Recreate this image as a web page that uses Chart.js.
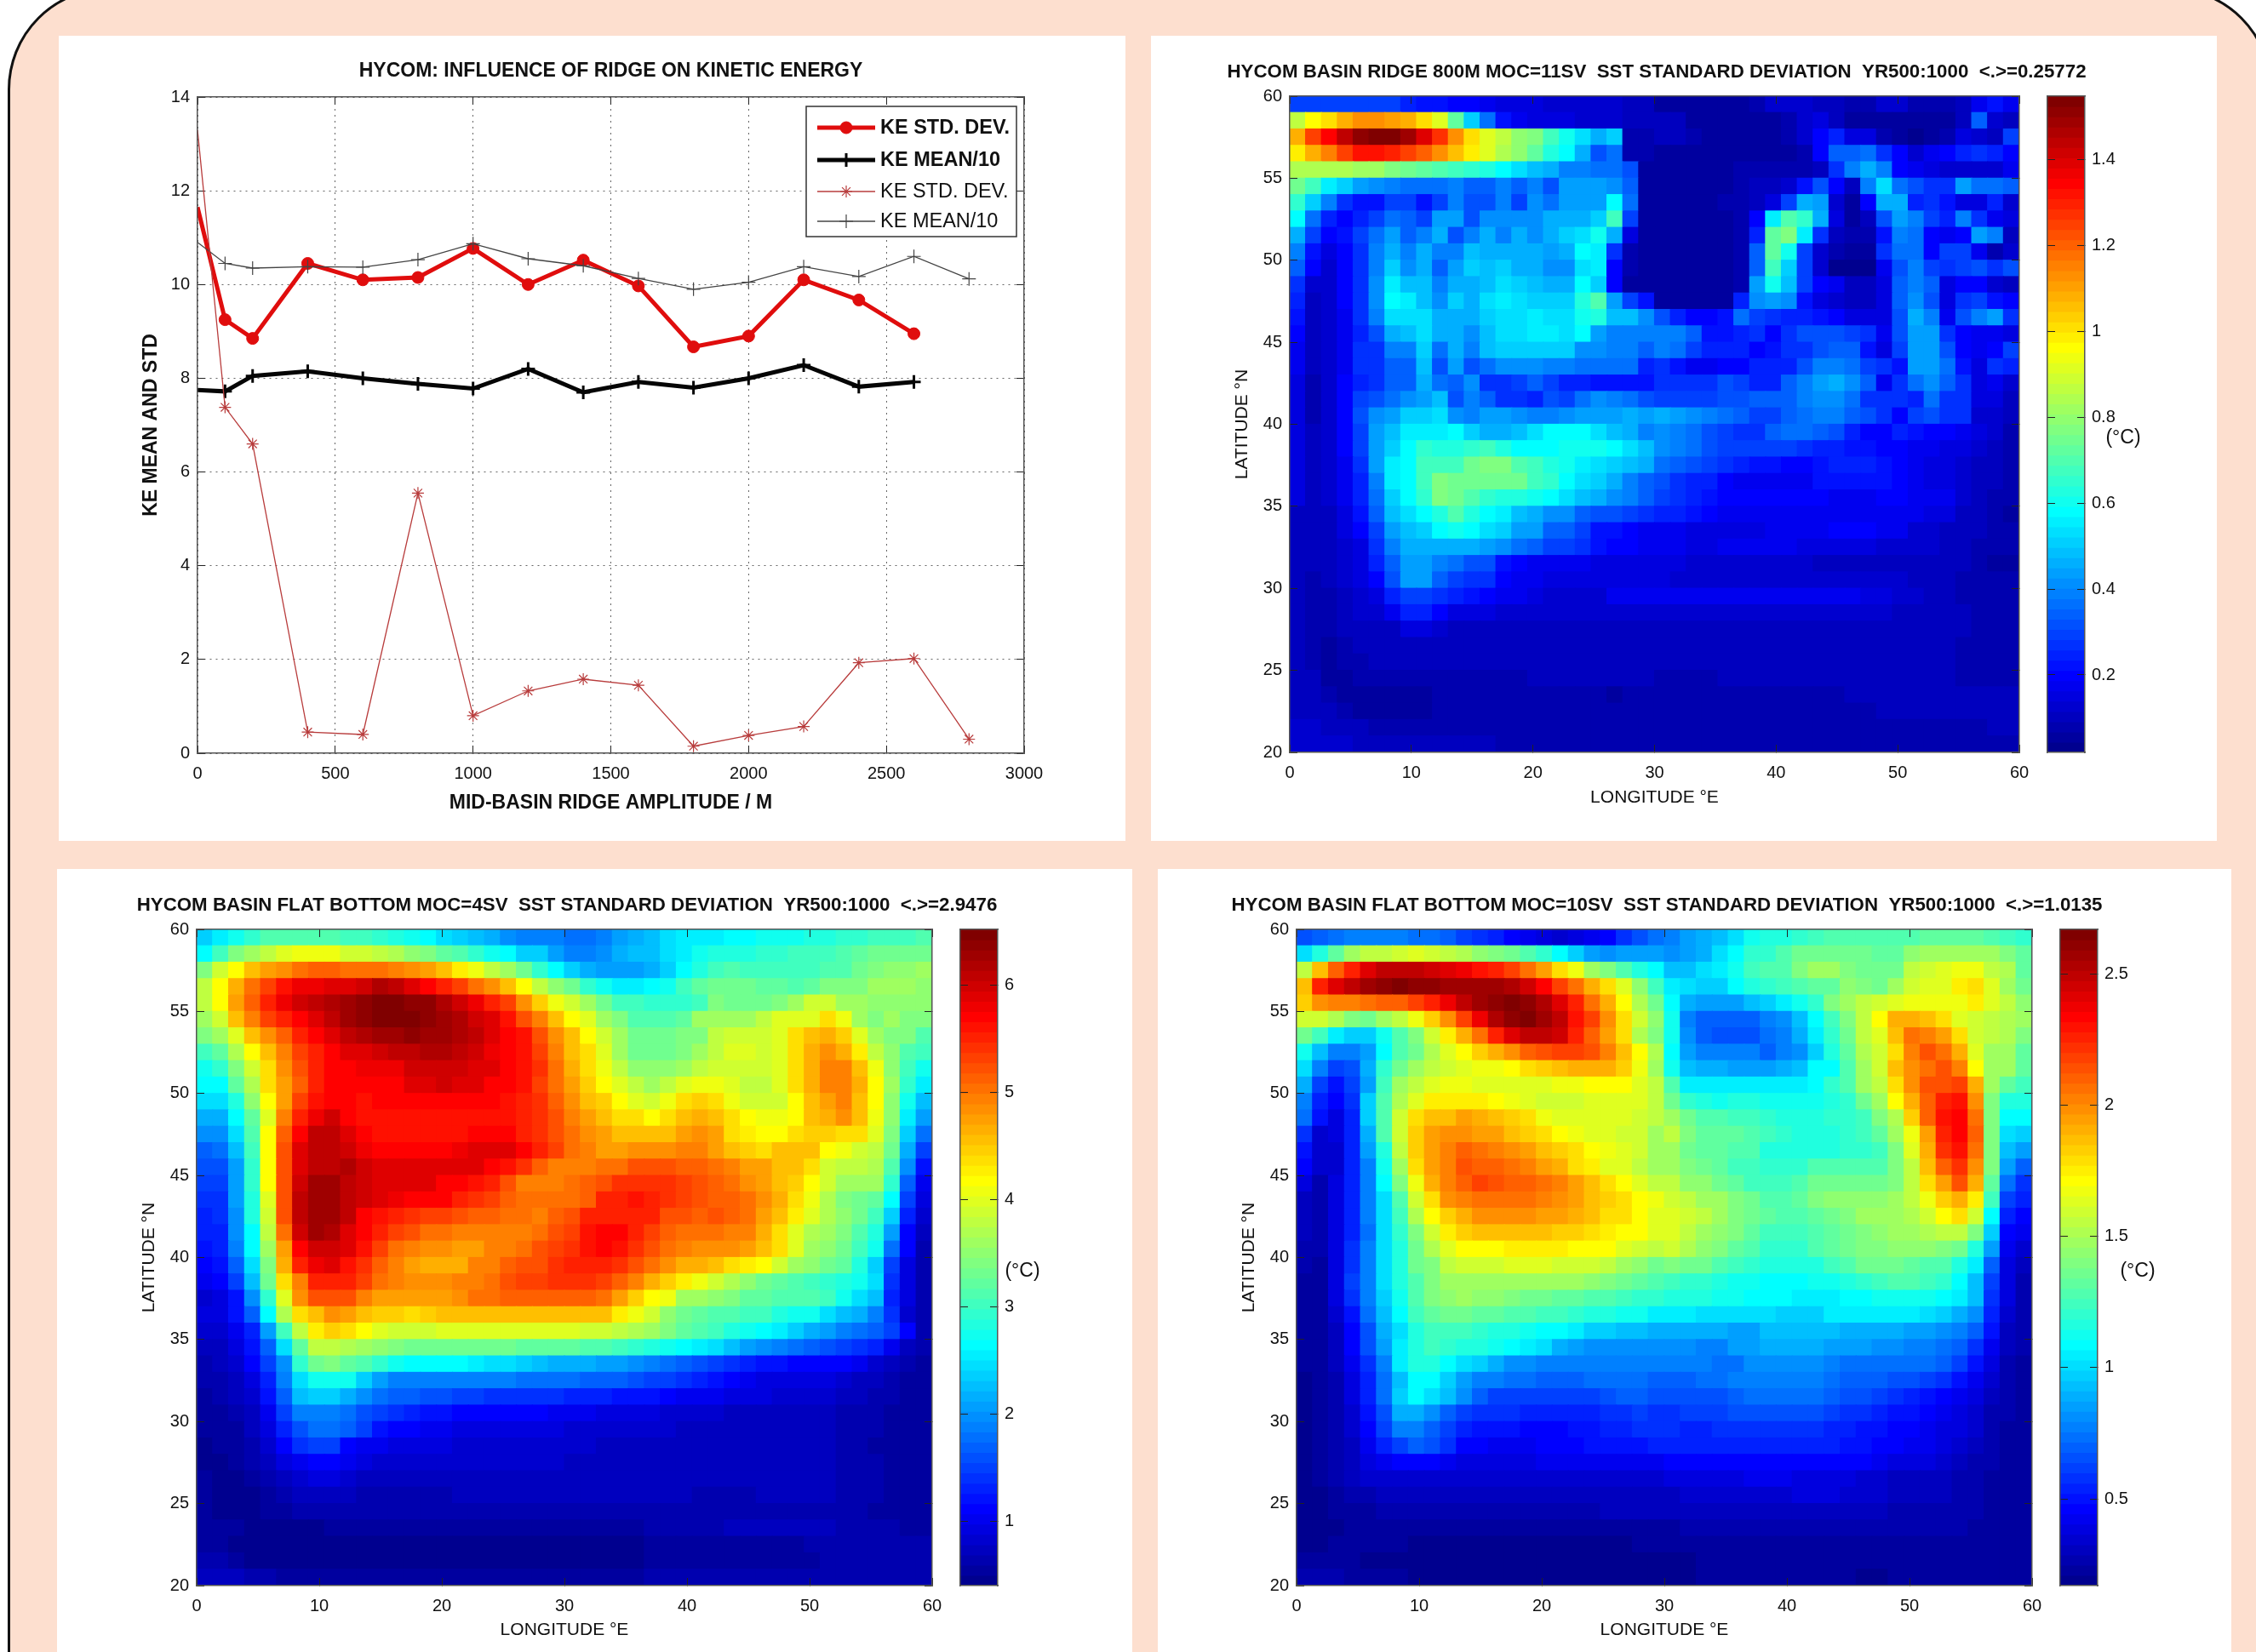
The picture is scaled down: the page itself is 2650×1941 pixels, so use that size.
<!DOCTYPE html>
<html><head><meta charset="utf-8">
<script src="https://cdn.jsdelivr.net/npm/chart.js@4"></script>
<style>
html,body{margin:0;padding:0;background:#fff;width:2650px;height:1941px;overflow:hidden;font-family:"Liberation Sans",Arial,sans-serif}
#frame{position:absolute;left:9px;top:-15px;width:2660px;height:2100px;background:#fddfcf;border:3px solid #111;border-radius:120px;box-sizing:border-box}
canvas{position:absolute;display:block}
.sheet{position:absolute;background:#fff}
.unit{position:absolute;font-size:23px;color:#111;transform:translate(-50%,-50%);white-space:pre}
</style></head><body><div id="frame"></div>
<script>
// ---------- line chart values ----------
const ridgeAmplitudeThick=[0,100,200,400,600,800,1000,1200,1400,1600,1800,2000,2200,2400,2600];
const keStdThick=[11.65,9.25,8.85,10.45,10.1,10.15,10.77,10.0,10.52,9.97,8.67,8.9,10.1,9.67,8.95];
const keMeanThick=[7.75,7.72,8.05,8.15,8.0,7.88,7.78,8.2,7.7,7.92,7.8,8.0,8.28,7.82,7.92];
const ridgeAmplitudeThin=[0,100,200,400,600,800,1000,1200,1400,1600,1800,2000,2200,2400,2600,2800];
const keStdThin=[13.3,7.38,6.6,0.45,0.4,5.55,0.8,1.33,1.58,1.45,0.15,0.38,0.57,1.93,2.02,0.3];
const keMeanThin=[10.9,10.45,10.35,10.38,10.37,10.53,10.87,10.55,10.4,10.13,9.9,10.05,10.38,10.17,10.6,10.12];
const xTicks1=[0,3000,500], yTicks1=[0,14,2];

// ---------- heat map values: colour-bar level (0-63) of each cell, rows from 60N down to 20N ----------
const ridgeLevels=[
[11,11,11,11,11,11,11,9,8,8,7,7,6,5,5,5,4,4,4,4,4,3,3,1,1,1,1,1,1,2,4,4,4,3,3,2,2,4,4,2,2,2,3,6,8,6],
[35,39,41,44,46,46,45,44,41,37,29,20,14,8,6,5,5,5,4,4,4,3,3,3,3,1,1,1,1,1,1,2,4,5,3,1,1,1,1,1,1,1,3,13,4,3],
[44,51,55,59,62,63,63,61,57,52,46,41,37,35,32,31,27,24,21,18,20,2,2,3,3,2,1,1,1,1,1,2,4,7,9,5,5,2,1,0,1,2,5,4,3,11],
[40,44,47,51,54,54,53,51,49,46,43,40,37,34,32,29,25,23,18,12,14,2,2,1,1,1,1,1,1,1,1,1,2,7,13,13,14,10,7,4,6,7,9,10,9,7],
[34,34,34,34,33,33,31,30,29,28,27,26,25,23,21,19,18,15,15,14,14,12,1,1,1,1,1,1,2,2,2,2,2,3,10,15,18,15,7,6,5,4,4,4,4,6],
[30,27,22,20,17,16,15,14,14,14,15,13,13,15,13,15,12,17,17,17,16,13,1,1,1,1,1,1,2,3,3,4,8,12,7,3,15,21,14,12,10,10,17,14,14,13],
[26,20,15,10,8,8,11,11,8,11,15,12,12,15,11,16,14,17,17,17,23,14,1,1,1,1,1,2,2,3,5,11,18,17,4,1,7,18,18,9,10,8,5,5,9,4],
[23,14,9,7,9,11,14,13,11,17,17,12,16,16,16,16,18,18,18,20,27,11,1,1,1,1,1,1,2,7,22,28,26,18,5,1,3,12,17,15,11,9,15,10,6,5],
[18,11,7,8,11,14,17,13,15,18,12,15,18,15,18,16,18,20,21,24,18,5,1,1,1,1,1,1,2,9,29,31,22,10,3,2,2,8,15,14,7,6,7,17,15,3],
[15,8,5,7,10,15,18,15,18,15,15,19,18,18,18,18,17,18,23,22,10,2,1,1,1,1,1,1,2,13,29,24,11,4,2,1,1,10,14,14,7,11,11,6,2,4],
[13,7,4,7,10,15,20,16,18,13,17,20,19,20,18,18,16,16,21,22,7,2,1,1,1,1,1,1,2,13,27,20,11,4,0,0,0,6,12,15,11,10,11,12,10,12],
[10,4,4,7,10,16,22,19,19,15,18,18,19,21,20,19,18,18,23,20,7,1,1,1,1,1,1,1,2,17,24,19,11,7,6,3,3,5,13,15,13,5,7,7,4,3],
[9,3,4,7,10,16,23,22,19,16,20,18,21,22,21,20,20,20,25,28,17,11,8,1,1,1,1,1,9,16,17,16,8,5,4,3,3,5,13,16,12,5,10,11,8,7],
[8,3,4,6,10,15,21,21,21,18,18,18,20,21,21,22,21,21,24,25,19,19,16,12,9,7,7,8,14,11,10,9,9,8,7,5,5,5,12,18,15,6,12,15,17,10],
[7,3,4,6,9,12,18,19,21,18,18,16,19,21,21,22,22,21,23,17,15,15,15,15,15,13,8,8,9,10,7,10,12,12,12,11,10,6,12,17,17,10,7,6,6,5],
[6,3,4,6,10,10,15,15,20,14,18,15,19,20,20,20,20,20,16,16,15,15,13,15,14,11,9,9,9,7,8,10,10,12,13,13,8,5,11,17,17,12,7,6,7,11],
[6,3,4,6,10,10,13,13,19,12,17,12,14,16,16,16,15,15,14,14,14,14,9,10,8,6,6,7,7,9,9,9,12,15,15,14,11,10,8,17,17,14,8,5,10,9],
[5,2,4,7,9,10,13,13,18,14,13,16,10,10,11,13,11,9,9,8,8,8,8,10,10,10,10,12,11,9,9,13,15,17,18,16,13,6,10,14,16,13,10,5,6,4],
[5,2,4,7,11,12,14,16,17,19,12,15,13,10,10,9,12,11,14,16,15,14,12,11,11,11,11,12,12,13,13,13,15,16,16,14,10,10,10,9,14,10,10,5,5,3],
[5,2,4,7,12,16,17,20,20,21,16,15,17,17,16,15,15,16,17,17,17,18,17,18,17,16,15,14,13,11,11,13,14,15,15,13,12,10,7,11,12,10,10,4,4,3],
[5,3,4,7,11,17,19,22,22,22,23,20,18,18,19,21,23,23,23,21,19,18,15,16,15,14,12,11,10,10,13,14,14,13,12,9,7,7,9,8,7,7,6,5,4,2],
[5,3,4,7,11,17,20,23,26,25,25,26,27,25,23,23,23,24,24,24,23,21,19,16,15,14,12,11,11,11,11,11,10,9,9,8,8,7,7,6,6,5,5,4,3,2],
[5,3,4,6,10,17,22,23,27,27,27,30,31,31,28,27,25,24,22,21,20,19,18,14,13,12,11,10,9,8,8,7,7,8,9,9,9,8,7,6,5,5,4,3,3,2],
[5,3,4,6,9,15,22,23,27,31,30,30,30,30,30,27,26,23,21,20,18,15,13,12,10,9,9,7,6,6,6,6,6,8,8,8,8,8,7,6,5,5,4,3,3,2],
[5,3,4,6,9,14,20,23,26,31,30,28,26,25,25,24,23,21,19,18,16,15,13,11,10,9,8,7,7,7,7,7,7,7,6,6,6,7,7,6,6,6,4,3,2,2],
[3,3,3,5,8,13,19,21,23,25,28,25,23,22,19,18,16,16,13,12,12,11,10,9,9,8,7,6,6,6,6,6,6,6,6,6,6,6,6,6,5,5,3,3,2,1],
[3,3,3,5,7,11,17,19,20,23,24,23,21,20,17,17,13,13,11,8,8,7,6,6,6,5,5,5,5,5,6,6,6,6,7,7,7,6,6,4,4,3,3,3,2,2],
[3,3,3,4,5,10,15,18,18,18,18,18,17,16,14,13,11,11,10,8,7,7,6,6,6,5,5,6,6,6,6,6,5,5,5,5,5,4,4,4,4,3,3,2,2,2],
[3,3,3,4,5,9,13,17,17,15,14,12,12,8,7,6,6,6,6,5,5,5,5,5,5,4,4,4,4,4,4,4,4,3,3,3,3,3,3,3,3,3,3,2,1,1],
[3,2,3,4,5,7,12,17,17,13,11,10,10,7,6,6,5,5,5,5,5,5,5,5,4,4,4,4,4,4,4,4,4,4,4,4,4,4,4,3,3,3,2,2,2,2],
[3,2,2,3,4,5,9,11,11,10,9,8,7,6,6,5,4,4,4,4,6,6,6,6,6,6,6,6,6,6,6,6,6,6,6,6,5,5,4,4,3,3,2,2,2,2],
[3,2,2,3,4,4,6,9,9,7,5,5,5,4,4,4,4,4,4,4,4,4,4,4,4,4,4,4,4,4,4,4,4,4,4,4,4,4,3,3,3,3,3,2,2,2],
[3,2,2,3,3,3,3,5,5,4,3,3,3,3,3,3,3,3,3,3,3,3,3,3,3,3,3,3,3,3,3,3,3,3,3,3,3,3,3,3,3,3,3,2,2,2],
[3,2,1,2,3,3,3,3,3,3,3,3,3,3,3,3,3,3,3,3,3,3,3,3,3,3,3,3,3,3,3,3,3,3,3,3,3,3,3,3,3,3,2,2,2,2],
[3,2,1,2,2,3,3,3,3,3,3,3,3,3,3,3,3,3,3,3,3,3,3,3,3,3,3,3,3,3,3,3,3,3,3,3,3,3,3,3,3,3,2,2,2,2],
[3,3,1,1,2,2,2,2,2,2,2,2,2,2,2,3,3,3,3,3,3,3,3,2,2,2,2,3,3,3,3,3,3,3,3,3,3,3,3,3,3,3,2,2,2,2],
[3,3,2,1,1,1,1,1,1,2,2,2,2,2,2,2,2,2,2,2,1,2,2,2,2,2,2,2,2,2,2,2,2,2,2,3,3,3,3,3,3,3,3,3,3,3],
[3,3,3,2,1,1,1,1,1,2,2,2,2,2,2,2,2,2,2,2,2,2,2,2,2,2,2,2,2,2,2,2,2,2,2,2,2,3,3,3,3,3,3,3,3,3],
[4,4,3,3,3,2,2,2,2,2,2,2,2,2,2,2,2,2,2,2,2,2,2,2,2,2,2,2,2,2,2,2,2,2,2,2,2,2,2,2,2,2,2,2,3,3],
[4,4,4,4,3,3,3,3,3,3,3,3,3,2,2,2,2,2,2,2,2,2,2,2,2,2,2,2,2,2,2,2,2,2,2,2,2,2,2,2,2,2,2,2,2,2]];

const flat4Levels=[
[20,22,24,26,28,28,28,28,28,27,27,26,25,24,23,21,20,19,18,16,15,15,15,14,14,15,17,18,19,21,22,22,22,23,23,24,24,24,25,25,26,26,27,27,27,28],
[23,27,31,33,35,37,38,38,38,36,36,35,34,32,31,29,28,26,24,23,20,20,17,15,15,16,18,19,19,21,22,24,25,25,25,26,26,27,27,27,28,29,30,30,30,30],
[31,36,39,43,45,46,48,49,49,48,48,48,47,46,45,43,40,38,35,33,30,26,23,20,18,17,17,17,18,20,23,25,27,28,27,27,27,27,27,28,28,30,31,32,32,33],
[35,39,44,48,51,54,56,56,57,57,58,60,59,57,55,53,51,48,46,43,39,35,32,30,26,24,22,22,23,24,27,29,30,30,30,29,29,28,29,31,31,31,33,33,33,32],
[35,39,45,49,53,56,58,59,60,61,62,63,63,62,62,60,58,56,53,51,46,42,38,36,33,30,27,27,26,26,26,27,31,30,30,30,31,33,36,36,33,33,32,32,32,32],
[33,36,43,47,51,53,55,57,59,61,62,63,63,63,62,61,60,58,57,54,50,47,43,39,37,33,31,28,28,28,29,33,33,33,33,35,37,37,37,41,38,33,31,33,31,31],
[31,33,37,43,46,49,53,55,57,59,60,61,61,62,61,61,60,59,57,55,54,50,46,43,39,36,33,30,30,30,31,31,35,36,36,36,37,41,43,44,42,37,33,31,31,28],
[27,29,34,39,43,47,51,53,55,57,57,58,59,59,60,60,59,58,56,55,54,51,47,43,41,37,33,30,30,30,31,33,35,37,37,36,37,41,44,46,44,40,35,32,28,27],
[24,26,31,36,41,46,50,53,55,55,56,56,56,58,58,58,58,57,57,55,54,52,48,44,41,38,35,32,32,32,33,35,36,36,36,36,37,41,44,47,47,43,38,32,27,24],
[23,23,29,34,41,45,49,53,55,55,55,55,55,57,57,58,57,57,55,55,54,51,48,45,42,39,37,35,33,35,37,38,38,37,35,35,37,41,44,47,47,44,39,33,26,22],
[21,21,25,32,39,45,51,54,55,55,54,55,55,55,55,55,55,55,55,54,53,52,49,46,43,42,39,37,36,38,41,42,41,38,36,36,36,39,43,45,47,43,39,32,24,19],
[18,18,23,29,37,47,53,56,58,55,54,54,54,54,54,54,54,54,54,54,53,52,50,47,45,43,41,41,39,41,43,44,43,41,39,38,38,39,43,44,46,43,38,32,22,17],
[16,16,21,28,39,49,55,59,59,57,55,54,54,54,54,54,54,55,55,55,53,52,50,48,46,45,43,43,43,43,45,46,45,41,40,39,39,41,42,42,41,41,37,31,20,14],
[13,14,19,27,39,50,57,59,59,58,56,55,55,55,55,55,56,57,57,57,55,53,51,48,47,45,45,46,46,46,47,47,45,43,42,41,43,43,43,39,38,36,35,30,18,11],
[12,12,17,26,39,50,57,59,59,60,58,57,57,57,57,57,57,57,55,54,52,49,47,47,47,48,48,50,50,50,49,49,48,47,45,45,43,43,41,36,35,35,34,28,16,8],
[11,11,17,26,39,50,58,61,61,59,58,57,57,57,57,55,55,54,53,50,47,47,47,48,49,50,52,52,52,52,51,50,49,48,46,45,43,42,39,36,33,33,33,26,13,6],
[10,10,17,25,37,50,59,61,61,59,58,57,56,55,55,55,53,52,51,49,48,48,48,48,49,53,53,54,53,52,51,50,49,49,48,46,44,41,38,34,31,30,29,23,11,5],
[9,10,16,25,36,50,59,61,61,59,55,54,53,52,51,51,50,49,49,48,48,47,49,50,53,53,53,53,53,50,50,49,50,49,48,45,43,40,37,34,32,30,27,20,9,4],
[9,9,16,23,35,48,58,61,60,57,55,53,51,50,48,48,47,47,47,47,47,48,50,51,54,55,55,53,51,49,48,48,48,47,47,44,41,37,34,33,31,28,25,17,7,3],
[8,9,15,23,33,45,55,58,58,57,54,51,48,47,46,46,45,45,47,47,48,50,51,52,54,55,54,52,50,48,47,46,46,46,45,43,41,37,33,32,30,27,24,14,7,2],
[7,8,13,21,31,44,53,56,57,54,52,49,47,45,44,44,44,47,47,49,50,50,52,53,53,53,52,50,48,46,44,44,43,41,40,39,36,33,32,30,29,25,20,11,5,2],
[6,7,11,19,30,41,47,53,53,53,51,48,47,46,46,46,47,47,48,50,51,51,52,52,52,51,49,47,44,42,40,38,36,34,32,30,29,28,27,26,25,24,21,10,5,2],
[4,5,8,16,26,37,46,50,50,50,47,45,45,45,45,45,46,48,48,49,49,49,49,49,49,48,45,42,39,38,33,33,32,31,29,29,28,28,28,27,24,21,19,9,5,2],
[5,5,8,13,23,34,41,43,46,45,43,42,42,41,42,43,43,43,43,43,43,43,43,43,43,43,40,38,36,32,30,29,28,28,27,27,25,24,24,21,19,18,15,10,4,2],
[4,4,6,9,17,27,35,40,42,41,39,37,36,36,36,37,37,37,37,37,37,37,37,37,36,36,35,34,33,31,29,28,27,25,24,23,22,20,18,17,15,14,13,11,7,2],
[3,3,5,8,13,21,29,35,35,34,33,32,31,30,30,30,30,30,30,30,29,29,29,29,28,28,27,26,25,24,23,22,21,19,17,16,15,14,13,12,11,10,9,6,3,2],
[2,3,4,7,11,16,26,30,31,29,28,26,24,23,23,23,23,22,21,21,20,19,18,18,18,17,17,16,15,14,13,12,11,10,9,8,8,7,7,7,7,6,4,3,2,1],
[2,2,3,5,9,15,21,24,24,24,20,17,15,15,15,15,15,15,15,15,14,14,14,14,13,13,13,12,11,11,10,9,8,7,6,5,5,5,5,5,4,3,3,2,1,1],
[1,2,3,4,8,13,19,20,20,18,16,14,13,13,12,12,11,11,10,10,10,10,10,9,9,9,8,8,8,7,6,6,6,5,5,5,4,4,4,4,3,3,2,2,1,1],
[1,1,2,3,6,11,15,15,15,14,12,11,10,9,8,8,7,7,7,7,7,7,6,6,6,5,5,5,5,4,4,4,4,3,3,3,3,3,3,3,2,2,2,1,1,1],
[1,1,1,3,5,9,12,14,14,13,11,8,7,7,6,6,5,5,5,5,5,5,5,4,4,4,4,4,4,4,3,3,3,3,3,3,3,3,3,3,2,2,2,1,1,1],
[0,1,1,2,4,7,10,11,11,7,6,6,5,5,5,5,4,4,4,4,4,4,4,4,4,3,3,3,3,3,3,3,3,3,3,3,3,3,3,3,2,2,1,1,1,1],
[0,0,1,2,3,5,6,7,7,6,5,4,4,4,4,4,4,4,4,4,4,4,4,3,3,3,3,3,3,3,3,3,3,3,3,3,3,3,3,3,2,2,2,1,1,1],
[1,0,0,1,2,3,4,5,5,4,3,3,3,3,3,3,3,3,3,3,3,3,3,3,3,3,3,3,3,3,3,3,3,3,3,3,3,3,3,3,2,2,2,1,1,1],
[1,0,0,0,1,2,3,3,3,3,2,2,2,2,2,2,3,3,3,3,3,3,3,3,3,3,3,3,3,3,3,2,2,2,2,3,3,3,3,3,2,2,2,1,1,1],
[1,0,0,0,1,1,2,2,2,2,2,2,2,2,2,2,2,2,2,2,2,2,2,2,2,2,2,2,2,2,2,2,2,2,2,2,2,2,2,2,2,2,1,1,1,1],
[1,1,1,0,0,0,0,0,1,1,1,1,1,1,1,1,1,1,1,1,1,1,1,1,1,1,1,1,2,2,2,2,2,3,3,3,3,3,3,3,2,2,2,2,1,1],
[1,1,0,0,0,0,0,0,0,0,0,0,0,0,0,0,0,0,0,0,0,0,0,0,0,0,0,0,1,1,1,1,1,1,1,1,1,1,2,2,2,2,2,2,2,2],
[2,2,1,0,0,0,0,0,0,0,0,0,0,0,0,0,0,0,0,0,0,0,0,0,0,0,0,0,1,1,1,1,1,1,1,1,1,1,1,2,2,2,2,2,2,2],
[3,3,3,2,2,1,1,1,1,1,1,1,1,1,1,1,1,1,1,1,1,1,1,1,1,1,1,1,2,2,2,2,2,2,2,2,2,2,2,2,2,2,2,2,2,2]];

const flat10Levels=[
[12,13,14,15,15,15,15,14,14,13,11,10,9,7,6,5,4,5,6,7,10,12,14,15,17,18,19,21,24,25,25,26,27,28,28,28,28,28,28,29,29,29,29,28,27,26],
[21,25,29,33,35,35,36,37,36,35,34,32,31,30,28,26,23,20,17,16,17,17,17,16,17,18,21,23,26,26,28,30,30,30,30,30,29,29,32,33,33,33,33,33,31,29],
[35,43,49,53,57,59,59,59,58,57,56,54,53,51,48,45,41,38,33,31,28,25,23,19,19,21,22,24,27,28,28,31,33,33,31,30,30,30,35,36,37,38,38,35,34,29],
[43,53,57,59,61,62,63,62,62,61,61,61,61,60,58,55,51,48,44,41,37,32,27,22,21,20,20,23,25,26,27,28,29,29,32,31,30,33,36,37,37,40,41,37,33,30],
[42,46,47,47,48,49,49,51,53,56,59,61,62,63,62,60,57,53,48,44,39,34,30,23,18,17,17,17,19,20,22,24,26,31,33,35,36,37,38,38,38,38,40,37,35,32],
[36,36,34,31,30,33,35,38,42,46,51,56,60,62,63,61,59,54,51,46,41,36,32,24,15,13,13,13,13,15,16,19,23,27,31,35,39,44,44,43,41,37,36,35,34,33],
[30,27,22,20,20,24,28,31,36,40,44,48,53,57,59,59,58,53,49,45,41,34,31,24,16,13,12,12,12,14,15,18,22,26,30,35,37,43,48,47,45,41,36,35,34,31],
[24,19,15,15,17,23,28,30,34,37,39,42,44,46,49,50,51,51,50,47,43,39,34,23,17,15,15,15,15,13,15,16,20,25,29,34,36,41,47,50,48,44,37,33,33,29],
[21,15,11,12,18,26,30,33,35,36,37,38,38,39,41,42,43,44,44,44,42,38,33,24,19,18,18,17,17,17,18,19,23,23,28,33,36,43,46,48,50,47,39,33,33,29],
[18,11,8,11,17,27,33,35,37,38,38,37,37,37,37,37,38,38,39,39,39,37,35,28,22,22,22,22,22,22,22,22,23,26,28,33,35,41,46,50,50,51,44,33,29,27],
[15,9,7,10,20,28,34,37,40,40,40,40,39,38,37,36,36,36,37,37,37,37,35,30,26,25,24,25,25,24,24,24,24,25,26,30,33,39,44,49,53,54,46,31,25,25],
[14,8,5,9,20,28,36,41,43,43,45,44,43,42,41,38,37,37,37,37,37,36,35,33,30,28,28,27,27,26,25,25,25,26,26,27,31,34,42,49,54,55,48,31,23,23],
[10,4,5,9,18,28,36,42,45,46,46,45,45,43,42,41,39,38,37,37,36,36,33,35,31,29,29,29,28,27,26,25,25,25,26,27,29,33,38,45,53,55,49,31,21,20],
[8,4,4,9,17,25,35,42,45,47,49,48,47,46,45,43,42,41,39,38,37,36,33,33,30,29,29,28,28,25,25,25,25,25,26,26,27,31,37,44,52,54,48,31,19,17],
[7,4,4,9,15,24,33,41,45,47,50,49,49,48,47,45,44,41,40,37,37,35,33,33,31,30,29,27,27,26,26,26,28,28,28,28,28,31,35,43,49,52,46,31,17,13],
[5,2,5,9,15,23,31,38,44,47,49,51,50,49,49,48,47,45,43,41,39,37,35,35,32,32,30,29,27,27,27,28,30,30,30,30,30,31,35,41,45,50,44,29,14,10],
[3,2,5,9,15,21,28,36,41,46,47,48,48,48,48,47,46,45,43,42,41,39,38,36,35,33,33,31,30,28,28,29,31,32,32,32,32,33,35,38,42,44,40,27,11,9],
[3,2,5,9,15,21,27,34,39,42,44,46,46,46,46,45,45,44,43,41,41,39,37,37,36,35,33,31,30,29,28,28,29,30,31,33,33,33,34,36,39,41,36,23,9,7],
[3,2,5,9,14,21,26,31,36,40,42,43,43,43,43,43,42,42,41,40,39,39,37,37,35,33,32,31,29,27,27,27,28,29,30,31,32,33,33,34,35,35,31,20,7,6],
[2,2,5,10,15,21,25,30,34,37,39,39,39,40,40,40,40,39,39,39,37,36,35,36,34,32,31,29,28,26,26,26,28,29,30,31,31,32,32,32,31,30,25,17,6,4],
[2,1,5,10,15,21,25,30,31,35,36,36,36,37,37,37,36,36,36,35,33,32,30,31,30,30,28,27,26,25,25,25,25,27,28,30,30,30,29,28,28,25,22,13,5,3],
[1,1,5,11,15,21,25,28,31,33,33,33,33,33,33,33,33,33,32,31,30,29,28,27,26,26,25,24,24,23,23,23,24,24,25,26,27,28,28,27,26,23,19,11,5,2],
[1,1,5,10,15,20,24,28,31,32,33,32,32,31,30,30,29,29,28,28,27,26,26,25,25,25,24,24,23,23,23,22,22,22,23,23,24,24,24,24,23,22,19,10,5,2],
[1,1,4,8,14,19,23,27,29,30,30,29,29,28,28,27,27,26,25,25,24,24,22,22,22,21,21,21,21,21,20,20,20,22,22,22,22,22,22,21,20,18,16,9,4,2],
[1,1,3,7,12,18,21,25,27,27,27,26,25,25,24,23,23,22,20,20,19,19,18,18,18,18,18,17,17,19,19,19,19,19,18,18,18,18,17,17,16,15,13,8,3,2],
[1,1,3,7,12,17,22,25,27,26,25,25,24,23,22,21,18,17,16,16,16,16,16,16,16,15,15,17,17,18,18,18,18,17,17,17,16,16,15,15,14,13,10,6,3,2],
[1,1,3,6,10,15,22,25,25,23,21,20,18,16,16,15,15,15,15,15,15,15,15,15,15,15,14,14,16,16,16,16,16,15,14,14,14,14,14,14,13,11,8,5,2,1],
[0,1,2,5,9,14,19,23,23,20,17,15,15,14,14,13,13,13,14,14,14,14,13,13,13,14,14,15,15,15,15,15,15,14,13,13,13,12,12,11,10,8,6,4,2,1],
[0,1,2,5,9,14,20,23,21,19,16,13,11,11,11,11,11,11,11,12,13,13,12,12,12,12,12,13,14,14,14,14,14,13,12,12,11,10,9,8,7,6,5,3,2,1],
[0,1,2,4,8,12,18,18,16,13,11,10,10,10,9,9,9,9,9,10,10,11,10,10,11,11,11,12,12,12,12,12,12,11,10,10,9,8,8,7,6,5,4,2,2,1],
[0,1,2,4,7,11,15,15,13,11,9,8,8,8,7,7,7,8,8,9,9,10,10,10,9,9,10,10,10,10,10,10,10,9,9,8,8,7,7,6,5,5,4,2,1,1],
[0,1,2,3,6,9,11,13,12,10,7,7,6,6,6,7,7,7,8,8,8,8,9,9,9,9,9,9,9,9,9,9,9,9,8,8,7,7,6,6,5,4,3,2,1,1],
[0,1,2,3,5,6,7,7,7,6,5,5,5,5,5,6,6,6,6,6,6,6,6,7,7,7,7,7,7,7,7,7,7,7,7,7,6,5,5,5,4,3,2,2,1,1],
[0,1,2,3,4,4,4,4,4,4,4,4,4,4,4,4,4,4,4,4,4,4,4,5,5,5,5,5,6,6,6,5,5,5,5,4,4,3,3,3,3,2,2,1,1,1],
[0,0,1,2,2,3,3,3,3,3,3,3,3,3,3,3,3,3,3,3,3,3,3,3,4,4,4,4,4,4,4,5,5,5,4,4,4,3,3,3,3,2,2,1,1,1],
[0,0,1,1,1,2,2,2,2,2,2,2,2,2,2,2,2,2,2,3,3,3,3,3,3,3,3,3,3,3,3,3,3,3,3,3,3,2,2,2,2,2,2,1,1,1],
[0,0,0,1,1,1,1,1,1,1,1,1,1,1,1,1,1,1,1,1,1,1,1,1,2,2,2,2,2,2,2,2,2,2,2,2,2,2,2,2,2,2,1,1,1,1],
[0,0,1,1,1,1,1,0,0,0,0,0,0,0,0,0,0,0,0,0,0,1,1,1,1,1,1,1,1,1,1,1,1,1,1,1,1,1,1,1,1,1,1,1,1,1],
[1,1,1,1,0,0,0,0,0,0,0,0,0,0,0,0,0,0,0,0,0,0,0,0,0,1,1,1,1,1,1,1,1,1,1,1,1,1,1,1,1,1,1,1,1,1],
[2,2,2,1,1,1,1,0,0,0,0,0,0,0,0,0,0,0,0,0,0,0,0,0,0,1,1,1,1,1,1,1,1,1,1,0,0,1,1,1,1,1,1,1,1,1]];

const longitudeTicks=[0,60,10], latitudeTicks=[20,60,5];
const titles={
 line:'HYCOM: INFLUENCE OF RIDGE ON KINETIC ENERGY',
 ridge:'HYCOM BASIN RIDGE 800M MOC=11SV  SST STANDARD DEVIATION  YR500:1000  <.>=0.25772',
 flat4:'HYCOM BASIN FLAT BOTTOM MOC=4SV  SST STANDARD DEVIATION  YR500:1000  <.>=2.9476',
 flat10:'HYCOM BASIN FLAT BOTTOM MOC=10SV  SST STANDARD DEVIATION  YR500:1000  <.>=1.0135'
};

// ---------- helpers ----------
const FONT='"Liberation Sans",Arial,sans-serif', INK='#111', FRAME='#555';
Chart.defaults.font.family=FONT; Chart.defaults.color=INK; Chart.defaults.animation=false;
function jet(i){const t=(i+1)/64,c=v=>Math.round(255*Math.max(0,Math.min(1,v)));
  return `rgb(${c(Math.min(4*t-1.5,-4*t+4.5))},${c(Math.min(4*t-.5,-4*t+3.5))},${c(Math.min(4*t+.5,-4*t+2.5))})`;}
function addSheet(l,t,w,h){const d=document.createElement('div');d.className='sheet';
  d.style.cssText=`left:${l}px;top:${t}px;width:${w}px;height:${h}px;`;document.body.appendChild(d);}
function addCanvas(l,t,w,h){const c=document.createElement('canvas');c.width=w;c.height=h;
  c.style.cssText=`left:${l}px;top:${t}px;width:${w}px;height:${h}px;`;document.body.appendChild(c);return c;}
function sized(w,h){return s=>{if(w!==null)s.width=w;if(h!==null)s.height=h;};}
const plainNumber=v=>String(+(+v).toFixed(2));
function frameAxis(axis,position,min,max,step,size){
  return {type:'linear',axis,position,min,max,offset:false,afterFit:axis==='x'?sized(null,size||0):sized(size||0,null),
    ticks:{display:false,stepSize:step,autoSkip:false},
    grid:{offset:false,drawOnChartArea:false,drawTicks:true,tickLength:-9,tickColor:'#222',z:1},
    border:{display:true,color:FRAME,width:1.5,z:2}};
}
function baseAxis(axis,position,min,max,step,size,text,bold,titlePad,fs,grid){
  return {type:'linear',axis,position,min,max,offset:false,afterFit:axis==='x'?sized(null,size):sized(size,null),
    ticks:{stepSize:step,autoSkip:false,maxRotation:0,minRotation:0,color:INK,font:{size:fs},padding:axis==='x'?21:18,callback:plainNumber},
    grid:Object.assign({offset:false,drawTicks:true,tickLength:-9,tickColor:'#222'},grid),
    border:{display:true,color:FRAME,width:1.5,z:2},
    title:{display:true,text,color:INK,font:{size:fs+1,weight:bold?'bold':'normal',lineHeight:1.2},padding:titlePad}};
}
function titleOpt(text,size,top,bottom,full){
  return {display:true,text,color:INK,fullSize:!!full,align:'center',font:{size,weight:'bold',lineHeight:1.2},padding:{top,bottom}};
}

// ---------- heat map + colour bar panel ----------
function heatPanel(p){
  const [xMin,xMax,xStep]=longitudeTicks,[yMin,yMax,yStep]=latitudeTicks;
  const nRows=p.levels.length,nCols=p.levels[0].length,cells=[];
  p.levels.forEach((row,r)=>row.forEach((lvl,c)=>{
    const lat=yMax-(r+1)*(yMax-yMin)/nRows;
    cells.push({x:xMin+(c+.5)*(xMax-xMin)/nCols,y:[lat,lat+(yMax-yMin)/nRows],
      sst:p.vMin+(lvl+.5)*(p.vMax-p.vMin)/64});
  }));
  const color=v=>jet(Math.min(63,Math.floor((v-p.vMin)/(p.vMax-p.vMin)*64)));
  addSheet(...p.panel);
  // canvas is symmetric about the title centre so the full-width title lands where it belongs
  const cw=2*(p.titleCx-p.panel[0]),ch=p.panel[3];
  const leftW=p.plot[0]-p.panel[0],rightW=p.panel[0]+cw-p.plot[2];
  new Chart(addCanvas(p.panel[0],p.panel[1],cw,ch),{
    type:'bar',
    data:{datasets:[{data:cells,borderWidth:0,inflateAmount:.6,barPercentage:1,categoryPercentage:1,
      backgroundColor:c=>c.raw?color(c.raw.sst):'#000'}]},
    options:{responsive:false,animation:false,events:[],
      layout:{autoPadding:false,padding:0},
      plugins:{legend:{display:false},tooltip:{enabled:false},
        title:titleOpt(p.title,p.titleSize,p.titleTop,p.plot[1]-p.panel[1]-p.titleTop-p.titleSize*1.2,true)},
      scales:{
        x:baseAxis('x','bottom',xMin,xMax,xStep,p.panel[1]+ch-p.plot[3],'LONGITUDE °E',false,{top:0,bottom:p.xTitleBottom},20,{drawOnChartArea:false,z:1}),
        y:baseAxis('y','left',yMin,yMax,yStep,leftW,'LATITUDE °N',false,{top:leftW-68,bottom:0},20,{drawOnChartArea:false,z:1}),
        xt:frameAxis('x','top',xMin,xMax,xStep),
        yr:frameAxis('y','right',yMin,yMax,yStep,rightW)
      }}
  });
  // colour bar
  const bar=[];for(let i=0;i<64;i++){const lo=p.vMin+i*(p.vMax-p.vMin)/64;
    bar.push({x:.5,y:[lo,lo+(p.vMax-p.vMin)/64],sst:lo+(p.vMax-p.vMin)/128});}
  const pad=40,side=2,[bl,br]=p.bar,axisW=70;
  new Chart(addCanvas(bl-side,p.plot[1]-pad,br-bl+axisW+side,p.plot[3]-p.plot[1]+2*pad),{
    type:'bar',
    data:{datasets:[{data:bar,borderWidth:0,inflateAmount:.6,barPercentage:1,categoryPercentage:1,
      backgroundColor:c=>c.raw?color(c.raw.sst):'#000'}]},
    options:{responsive:false,animation:false,events:[],
      layout:{autoPadding:false,padding:{left:side,right:0,top:pad,bottom:pad}},
      plugins:{legend:{display:false},tooltip:{enabled:false},title:{display:false}},
      scales:{
        x:{type:'linear',position:'bottom',min:0,max:1,offset:false,afterFit:sized(null,0),ticks:{display:false},
           grid:{display:false,offset:false},border:{display:true,color:FRAME,width:1.5,z:2}},
        xt:{type:'linear',axis:'x',position:'top',min:0,max:1,offset:false,afterFit:sized(null,0),ticks:{display:false},
           grid:{display:false,offset:false},border:{display:true,color:FRAME,width:1.5,z:2}},
        yl:{type:'linear',axis:'y',position:'left',min:p.vMin,max:p.vMax,afterFit:sized(0,null),ticks:{display:false,stepSize:p.vStep,includeBounds:false},
           grid:{drawOnChartArea:false,tickLength:-9,tickColor:'#222',z:1},border:{display:true,color:FRAME,width:1.5,z:2}},
        y:{type:'linear',position:'right',min:p.vMin,max:p.vMax,afterFit:sized(axisW,null),
           ticks:{stepSize:p.vStep,includeBounds:false,autoSkip:false,color:INK,font:{size:20},padding:17,callback:plainNumber},
           grid:{drawOnChartArea:false,tickLength:-9,tickColor:'#222',z:1},border:{display:true,color:FRAME,width:1.5,z:2}}
      }}
  });
  const u=document.createElement('div');u.className='unit';u.textContent='(°C)';
  u.style.left=p.unit[0]+'px';u.style.top=p.unit[1]+'px';document.body.appendChild(u);
}
heatPanel({levels:ridgeLevels,title:titles.ridge,panel:[1352,42,1252,946],plot:[1515,113,2372,884],bar:[2405,2449],titleCx:1946,
  vMin:.0196,vMax:1.548,vStep:.2,unit:[2494,513],xTitleBottom:38,titleSize:22.3,titleTop:29});
heatPanel({levels:flat4Levels,title:titles.flat4,panel:[67,1021,1263,920],plot:[231,1092,1095,1863],bar:[1128,1172],titleCx:666,
  vMin:.405,vMax:6.52,vStep:1,unit:[1201,1492],xTitleBottom:13,titleSize:22.3,titleTop:29});
heatPanel({levels:flat10Levels,title:titles.flat10,panel:[1360,1021,1261,920],plot:[1523,1092,2387,1863],bar:[2420,2464],titleCx:1958,
  vMin:.169,vMax:2.671,vStep:.5,unit:[2511,1492],xTitleBottom:13,titleSize:22.3,titleTop:29});

// ---------- line chart panel ----------
const pts=(xs,ys)=>xs.map((x,i)=>({x,y:ys[i]}));
const lineSets=[
 {label:'KE STD. DEV.',data:pts(ridgeAmplitudeThin,keStdThin),borderColor:'#b83c3c',backgroundColor:'#b83c3c',borderWidth:1.3,pointStyle:'star',marker:7,pointBorderWidth:1.2,bold:false,legendY:225},
 {label:'KE MEAN/10',data:pts(ridgeAmplitudeThin,keMeanThin),borderColor:'#444',backgroundColor:'#444',borderWidth:1.3,pointStyle:'cross',marker:8,pointBorderWidth:1.2,bold:false,legendY:260},
 {label:'KE STD. DEV.',data:pts(ridgeAmplitudeThick,keStdThick),borderColor:'#e00d0d',backgroundColor:'#e00d0d',borderWidth:5,pointStyle:'circle',marker:7,pointBorderWidth:1,bold:true,legendY:150},
 {label:'KE MEAN/10',data:pts(ridgeAmplitudeThick,keMeanThick),borderColor:'#050505',backgroundColor:'#050505',borderWidth:5,pointStyle:'cross',marker:8,pointBorderWidth:3,bold:true,legendY:188}
];
const legendBox={id:'legendBox',afterDraw(chart){
  const g=chart.ctx,ox=chart.canvas.offsetLeft,oy=chart.canvas.offsetTop;
  g.save();g.fillStyle='#fff';g.strokeStyle='#333';g.lineWidth=1.5;
  g.fillRect(947-ox,125-oy,247,153);g.strokeRect(947-ox,125-oy,247,153);
  chart.data.datasets.forEach(d=>{
    const y=d.legendY-oy,x1=960-ox,x2=1028-ox;
    g.strokeStyle=d.borderColor;g.lineWidth=d.borderWidth;g.beginPath();g.moveTo(x1,y);g.lineTo(x2,y);g.stroke();
    g.lineWidth=d.pointBorderWidth;g.fillStyle=d.backgroundColor;
    Chart.helpers.drawPoint(g,{pointStyle:d.pointStyle,radius:d.marker,rotation:0,borderWidth:d.pointBorderWidth},(x1+x2)/2,y);
    g.fillStyle=INK;g.textBaseline='middle';g.textAlign='left';
    g.font=(d.bold?'bold ':'')+'23.5px '+FONT;g.fillText(d.label,1034-ox,y+1);
  });
  g.restore();
}};
const P1={panel:[69,42,1253,946],plot:[232,114,1203,885]};
addSheet(...P1.panel);
const dotted={drawOnChartArea:true,color:'#666',lineWidth:1};
const xa=baseAxis('x','bottom',xTicks1[0],xTicks1[1],xTicks1[2],P1.panel[1]+P1.panel[3]-P1.plot[3],'MID-BASIN RIDGE AMPLITUDE / M',true,{top:0,bottom:31},20,dotted);
const ya=baseAxis('y','left',yTicks1[0],yTicks1[1],yTicks1[2],70,'KE MEAN AND STD',true,{top:2,bottom:0},20,dotted);
xa.border.dash=[2,5];ya.border.dash=[2,5];
xa.title.font.size=23;ya.title.font.size=23;
new Chart(addCanvas(P1.panel[0],P1.panel[1],P1.panel[2],P1.panel[3]),{
  type:'scatter',
  data:{datasets:lineSets.map(d=>Object.assign({showLine:true,tension:0,
    pointRadius:c=>c.dataIndex===0?0:d.marker},d))},
  options:{responsive:false,animation:false,events:[],
    layout:{autoPadding:false,padding:{left:P1.plot[0]-P1.panel[0]-70,right:P1.panel[0]+P1.panel[2]-P1.plot[2],top:0,bottom:0}},
    plugins:{legend:{display:false},tooltip:{enabled:false},
      title:titleOpt(titles.line,23,28,P1.plot[1]-P1.panel[1]-28-23*1.2,false)},
    scales:{x:xa,y:ya,
      xt:frameAxis('x','top',xTicks1[0],xTicks1[1],xTicks1[2]),
      yr:frameAxis('y','right',yTicks1[0],yTicks1[1],yTicks1[2])}},
  plugins:[legendBox]
});
</script></body></html>
